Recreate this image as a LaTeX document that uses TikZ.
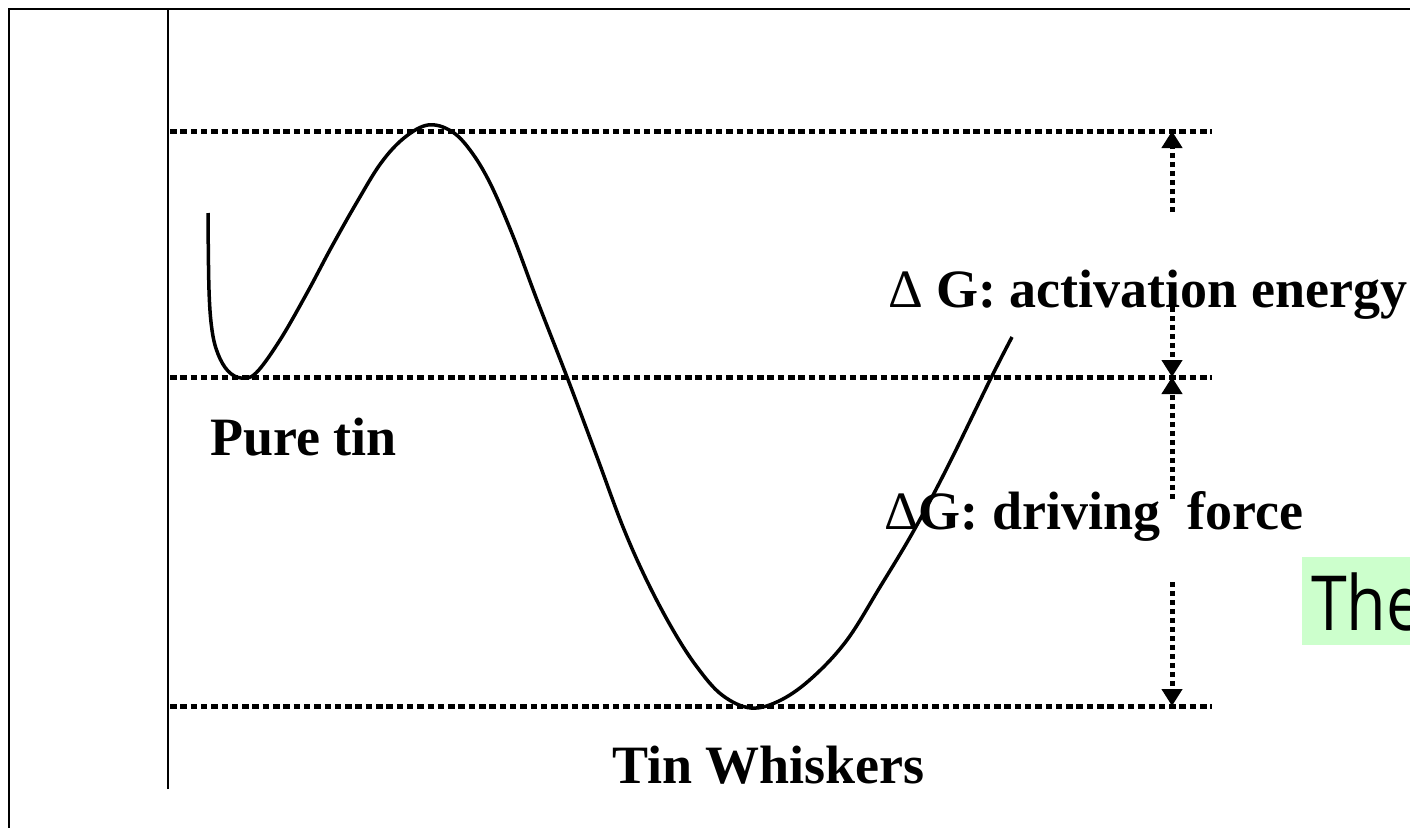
\documentclass[tikz,border=0pt]{standalone}
\usepackage{fontspec}
\setmainfont{Liberation Serif}
\newfontfamily\greenfont[FakeStretch=0.85]{Open Sans}
\usetikzlibrary{arrows.meta}
\definecolor{hilite}{RGB}{204,255,204}
\begin{document}
\begin{tikzpicture}[x=1pt,y=-1pt,
  frame/.style={line width=2pt},
  level/.style={line width=5pt, dash pattern=on 6.5pt off 3.8pt},
  gap/.style={line width=5pt, dash pattern=on 5pt off 4pt, -{Triangle[length=17pt,width=20pt]}},
  lbl/.style={anchor=base west, inner sep=0pt, font=\fontsize{54}{60}\selectfont\bfseries},
  curve/.style={line width=3.5pt, line join=round}]
\useasboundingbox (0,0) rectangle (1410,827);
% frame
\coordinate (fl) at (9,840);
\coordinate (ftl) at (9,9);
\coordinate (ftr) at (1420,9);
\draw[frame] (fl) -- (ftl) -- (ftr);
\coordinate (ab) at (168,789);
\coordinate (at) at (168,9);
\draw[frame] (ab) -- (at);
% levels
\coordinate (t1) at (170,131);  \coordinate (t2) at (1212,131);
\coordinate (m1) at (170,377);  \coordinate (m2) at (1212,377);
\coordinate (b1) at (170,706);  \coordinate (b2) at (1212,706);
\draw[level] (t1) -- (t2);
\draw[level] (m1) -- (m2);
\draw[level] (b1) -- (b2);
% curve
\draw[curve] plot[smooth, tension=0.6] coordinates {
 (208,213) (209,290) (212,330) (218,354) (228,371) (241,378) (256,373)
 (280,340) (307,293) (331,248) (357,202) (381,163) (404,138) (428,125)
 (451,131) (470,150) (490,183) (513,236) (537,300) (567,377) (597,457)
 (623,527) (647,581) (673,630) (697,667) (722,695) (751,708) (781,700)
 (813,677) (847,640) (880,587) (913,532) (947,468) (990,380) (1012,337)};
% arrows
\coordinate (a1s) at (1172,212); \coordinate (a1e) at (1172,131);
\coordinate (a2s) at (1172,298); \coordinate (a2e) at (1172,377);
\coordinate (a3s) at (1172,499); \coordinate (a3e) at (1172,377);
\coordinate (a4s) at (1172,582); \coordinate (a4e) at (1172,706);
\draw[gap] (a1s) -- (a1e);
\draw[gap] (a2s) -- (a2e);
\draw[gap] (a3s) -- (a3e);
\draw[gap] (a4s) -- (a4e);
% labels
\node[lbl] (act) at (888,307) {{\mdseries Δ} G: activation energy};
\node[lbl] (drv) at (884,529) {{\mdseries Δ}G: driving\ \ force};
\node[lbl] (pure) at (210,455) {Pure tin};
\node[lbl] (whisk) at (612,783) {Tin Whiskers};
% highlighted text
\fill[hilite] (1302,557) rectangle (1420,645);
\node[anchor=base west, inner sep=0pt, font=\greenfont\fontsize{76}{80}\selectfont] (the) at (1311,630) {The};
\end{tikzpicture}
\end{document}
